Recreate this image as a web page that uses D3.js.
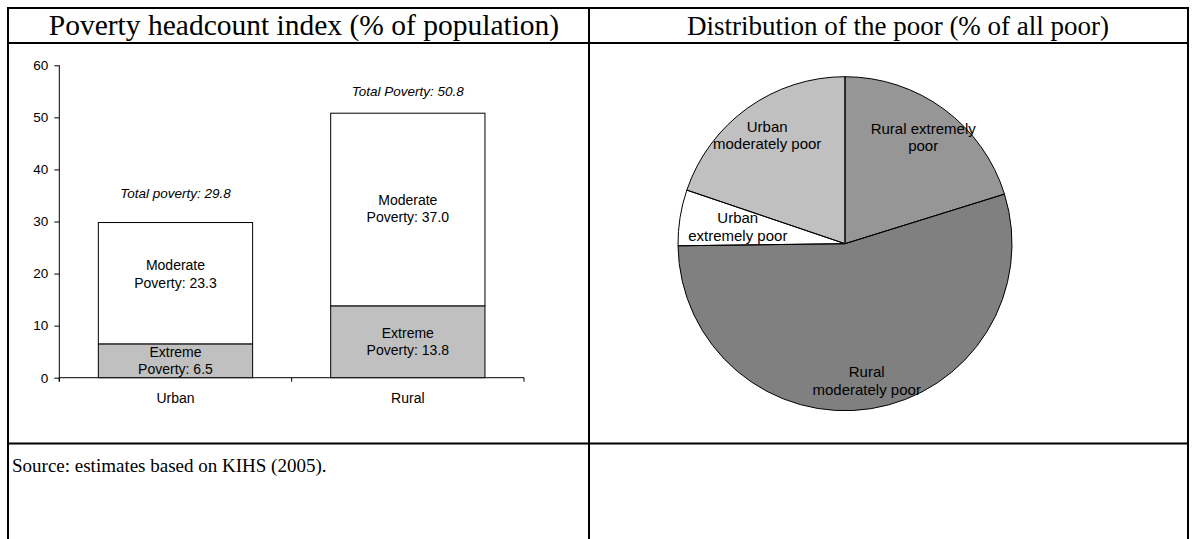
<!DOCTYPE html>
<html>
<head>
<meta charset="utf-8">
<script src="https://cdn.jsdelivr.net/npm/d3@7.9.0/dist/d3.min.js"></script>
<style>
  body { margin: 0; background: #fff; }
  svg { display: block; }
  .serif { font-family: "Liberation Serif", "Times New Roman", serif; }
  .sans { font-family: "Liberation Sans", Arial, sans-serif; }
</style>
</head>
<body>
<svg id="chart" width="1193" height="539"></svg>
<script>
// bar chart data
const categories = ['Urban', 'Rural'];
const extremePoverty = [6.5, 13.8];
const moderatePoverty = [23.3, 37.0];
const totalLabels = ['Total poverty', 'Total Poverty'];
const yTicks = [0, 10, 20, 30, 40, 50, 60];

// pie data (clockwise from 12 o'clock)
const pieNames = ['Rural extremely poor', 'Rural moderately poor', 'Urban extremely poor', 'Urban moderately poor'];
const pieShares = [20.2, 54.6, 5.4, 19.8];
const pieLabelLines = [['Rural extremely', 'poor'], ['Rural', 'moderately poor'], ['Urban', 'extremely poor'], ['Urban', 'moderately poor']];

const svg = d3.select('#chart');

// table frame
const frame = svg.append('g').attr('stroke', '#000').attr('stroke-width', 2);
frame.append('line').attr('x1', 8).attr('x2', 8).attr('y1', 7).attr('y2', 539);
frame.append('line').attr('x1', 1188).attr('x2', 1188).attr('y1', 7).attr('y2', 539);
frame.append('line').attr('x1', 589).attr('x2', 589).attr('y1', 7).attr('y2', 539);
frame.append('line').attr('x1', 7).attr('x2', 1189).attr('y1', 8).attr('y2', 8);
frame.append('line').attr('x1', 7).attr('x2', 1189).attr('y1', 43).attr('y2', 43);
frame.append('line').attr('x1', 7).attr('x2', 1189).attr('y1', 443.5).attr('y2', 443.5);

svg.append('text').attr('class', 'serif')
  .attr('x', 304).attr('y', 35).attr('text-anchor', 'middle')
  .style('font-size', '29.5px')
  .text('Poverty headcount index (% of population)');
svg.append('text').attr('class', 'serif')
  .attr('x', 898).attr('y', 35).attr('text-anchor', 'middle')
  .style('font-size', '27px')
  .text('Distribution of the poor (% of all poor)');
svg.append('text').attr('class', 'serif')
  .attr('x', 12).attr('y', 472)
  .style('font-size', '19px')
  .text('Source: estimates based on KIHS (2005).');

// ---- stacked bars ----
const y = d3.scaleLinear().domain([0, 60]).range([377.7, 65.3]);
const x = d3.scaleBand().domain(categories).range([59.3, 524])
  .paddingInner(0.336).paddingOuter(0.168);

const bars = svg.append('g').attr('class', 'sans');

const yAxis = bars.append('g')
  .attr('transform', `translate(${x.range()[0]},0)`)
  .call(d3.axisLeft(y).tickValues(yTicks).tickSize(5).tickSizeOuter(0).tickPadding(6));
yAxis.select('.domain').attr('d', `M0,${y(60)}V${y(0) + 4}`);
yAxis.selectAll('text').style('font-size', '13.5px').attr('fill', '#000')
  .style('font-family', '"Liberation Sans", Arial, sans-serif');

const xAxis = bars.append('g')
  .attr('transform', `translate(0,${y(0)})`)
  .call(d3.axisBottom(x).tickSize(0).tickPadding(15));
xAxis.select('.domain').remove();
xAxis.selectAll('text').style('font-size', '14px').attr('fill', '#000')
  .style('font-family', '"Liberation Sans", Arial, sans-serif');

// category boundary ticks
const bounds = [x.range()[0], ...categories.slice(1).map(c => x(c) - x.step() * x.paddingInner() / 2), x.range()[1]];
bars.append('line').attr('x1', x.range()[0]).attr('x2', x.range()[1])
  .attr('y1', y(0)).attr('y2', y(0)).attr('stroke', '#000');
bars.selectAll('.btick').data(bounds).join('line')
  .attr('x1', d => d).attr('x2', d => d)
  .attr('y1', y(0)).attr('y2', y(0) + 4).attr('stroke', '#000');

const rows = categories.map((c, i) => ({
  cat: c, extreme: extremePoverty[i], moderate: moderatePoverty[i],
  total: extremePoverty[i] + moderatePoverty[i], totalLabel: totalLabels[i]
}));

bars.selectAll('.ext').data(rows).join('rect')
  .attr('x', d => x(d.cat)).attr('width', x.bandwidth())
  .attr('y', d => y(d.extreme)).attr('height', d => y(0) - y(d.extreme))
  .attr('fill', '#c0c0c0').attr('stroke', '#000').attr('stroke-width', 1);
bars.selectAll('.mod').data(rows).join('rect')
  .attr('x', d => x(d.cat)).attr('width', x.bandwidth())
  .attr('y', d => y(d.total)).attr('height', d => y(d.extreme) - y(d.total))
  .attr('fill', '#fff').attr('stroke', '#000').attr('stroke-width', 1);

function twoLines(g, cx, cy, lines, size) {
  const t = g.append('text').attr('text-anchor', 'middle').style('font-size', size + 'px');
  lines.forEach((s, k) => {
    t.append('tspan').attr('x', cx)
      .attr('y', cy + (k - (lines.length - 1) / 2) * 17.5)
      .attr('dy', '0.35em').text(s);
  });
}

// nudges for the urban moderate label which sits above its segment centre
const modNudge = { Urban: -9, Rural: -1 };
rows.forEach(d => {
  const cx = x(d.cat) + x.bandwidth() / 2;
  twoLines(bars, cx, (y(d.extreme) + y(d.total)) / 2 + modNudge[d.cat],
    ['Moderate', `Poverty: ${d.moderate.toFixed(1)}`], 14);
  twoLines(bars, cx, (y(0) + y(d.extreme)) / 2,
    ['Extreme', `Poverty: ${d.extreme.toFixed(1)}`], 14);
});
const totalGap = { Urban: 29, Rural: 22 };
bars.selectAll('.tot').data(rows).join('text')
  .attr('x', d => x(d.cat) + x.bandwidth() / 2)
  .attr('y', d => y(d.total) - totalGap[d.cat])
  .attr('dy', '0.35em')
  .attr('text-anchor', 'middle')
  .style('font-size', '13.5px').style('font-style', 'italic')
  .text(d => `${d.totalLabel}: ${d.total.toFixed(1)}`);

// ---- pie ----
const R = 167;
const pieG = svg.append('g').attr('class', 'sans').attr('transform', 'translate(845,243.7)');
const color = d3.scaleOrdinal().domain(pieNames).range(['#969696', '#808080', '#ffffff', '#c0c0c0']);
const slices = d3.pie().sort(null).value(d => d.value)(
  pieNames.map((n, i) => ({ name: n, value: pieShares[i], lines: pieLabelLines[i] })));
const arc = d3.arc().innerRadius(0).outerRadius(R);

pieG.selectAll('.fill').data(slices).join('path')
  .attr('d', arc).attr('fill', d => color(d.data.name));

const labelRadius = { 'Rural extremely poor': 0.79, 'Rural moderately poor': 0.83, 'Urban extremely poor': 0.65, 'Urban moderately poor': 0.8 };
slices.forEach(d => {
  const r = R * labelRadius[d.data.name];
  const la = d3.arc().innerRadius(r).outerRadius(r);
  const [cx, cy] = la.centroid(d);
  twoLines(pieG, cx, cy, d.data.lines, 15);
});

pieG.selectAll('.edge').data(slices).join('path')
  .attr('d', arc).attr('fill', 'none').attr('stroke', '#000').attr('stroke-width', 1);
</script>
</body>
</html>
